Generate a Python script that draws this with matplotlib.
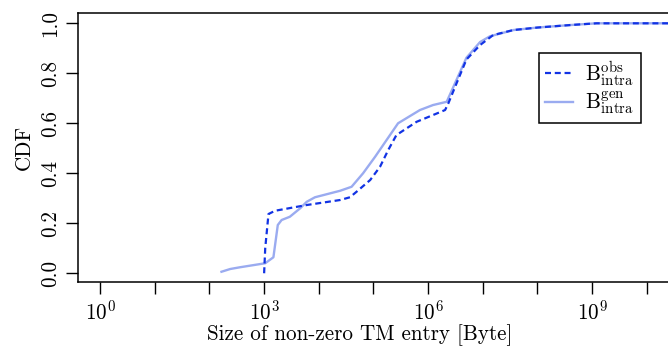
import numpy as np
import matplotlib
matplotlib.use("Agg")
import matplotlib.pyplot as plt
from matplotlib.ticker import FixedLocator, FixedFormatter

plt.rcParams['font.family'] = 'serif'
plt.rcParams['font.serif'] = ['cmr10']
plt.rcParams['mathtext.fontset'] = 'cm'
plt.rcParams['axes.formatter.use_mathtext'] = True
plt.rcParams['axes.unicode_minus'] = False

FS = 15.2

# CDF of non-zero TM entry sizes (log10 of bytes, cumulative fraction)
obs_log = [3.00, 3.02, 3.08, 3.20, 3.78, 4.39, 4.57, 4.69, 4.94, 5.12, 5.27, 5.42,
           5.79, 6.09, 6.31, 6.37, 6.52, 6.70, 6.95, 7.19, 7.56, 8.00, 8.60, 9.08, 11.0]
obs_cdf = [0.00, 0.10, 0.237, 0.25, 0.273, 0.293, 0.304, 0.326, 0.373, 0.426, 0.493, 0.553,
           0.606, 0.633, 0.653, 0.68, 0.76, 0.855, 0.913, 0.953, 0.973, 0.983, 0.993, 1.0, 1.0]

gen_log = [2.22, 2.38, 2.56, 3.02, 3.17, 3.25, 3.32, 3.47, 3.66, 3.78, 3.93, 4.39,
           4.60, 4.81, 5.03, 5.24, 5.45, 5.85, 6.09, 6.34, 6.70, 6.95, 7.13, 7.56,
           8.00, 8.60, 9.08, 11.0]
gen_cdf = [0.006, 0.017, 0.024, 0.040, 0.064, 0.193, 0.213, 0.226, 0.26, 0.286, 0.304, 0.33,
           0.346, 0.40, 0.466, 0.533, 0.60, 0.653, 0.673, 0.686, 0.862, 0.925, 0.948, 0.973,
           0.983, 0.993, 1.0, 1.0]

tick_exp = list(range(0, 11))
tick_labels = [r'$10^{%d}$' % e if e % 3 == 0 else '' for e in tick_exp]

fig = plt.figure(figsize=(6.68, 3.46), dpi=100)
ax_rect = [77.7 / 668, 1 - 282 / 346, 612.3 / 668, (282 - 13.3) / 346]
ax = fig.add_axes(ax_rect)

ax.plot(10.0 ** np.array(gen_log), gen_cdf, color='#9aabf0', lw=1.7,
        label=r'$\mathrm{B}_{\mathrm{intra}}^{\mathrm{gen}}$', zorder=2)
ax.plot(10.0 ** np.array(obs_log), obs_cdf, color='#1233e4', lw=1.6,
        dashes=(2.7, 1.7), label=r'$\mathrm{B}_{\mathrm{intra}}^{\mathrm{obs}}$', zorder=3)

ax.set_xscale('log')
ax.set_xlim(10 ** -0.41, 10 ** 10.79)
ax.set_ylim(-0.035, 1.04)

ax.xaxis.set_major_locator(FixedLocator([10.0 ** e for e in tick_exp]))
ax.xaxis.set_major_formatter(FixedFormatter(tick_labels))
ax.xaxis.set_minor_locator(FixedLocator([]))
ax.set_yticks([0.0, 0.2, 0.4, 0.6, 0.8, 1.0])
ax.set_yticklabels(['0.0', '0.2', '0.4', '0.6', '0.8', '1.0'], rotation=90, va='center')

ax.tick_params(axis='both', length=8.7, width=1.0, labelsize=FS, direction='out')
ax.tick_params(axis='x', pad=4)
ax.tick_params(axis='y', pad=4)
for s in ax.spines.values():
    s.set_linewidth(1.1)

ax.set_xlabel('Size of non-zero TM entry [Byte]', fontsize=FS)
ax.xaxis.set_label_coords((360 - 77.7) / 612.3, -0.156)
ax.set_ylabel('CDF', fontsize=FS, labelpad=5)

# legend box, top-left corner placed in pixel coordinates
handles, labels = ax.get_legend_handles_labels()
leg = fig.legend(handles[::-1], labels[::-1], loc='upper left',
                 bbox_to_anchor=(539 / 668, 1 - 52.7 / 346),
                 fontsize=FS, fancybox=False, edgecolor='black', framealpha=1,
                 handlelength=1.3, borderpad=0.3, labelspacing=0.08,
                 handletextpad=0.6, borderaxespad=0)
leg.get_frame().set_linewidth(1.1)

fig.savefig('out.png', dpi=100)
